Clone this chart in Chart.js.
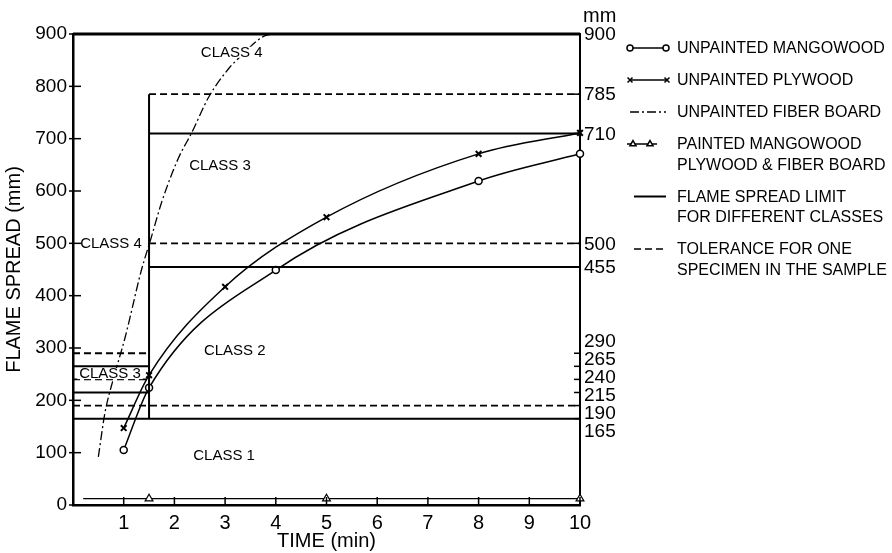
<!DOCTYPE html>
<html>
<head>
    <title>Flame Spread vs Time</title>
    <script src="https://cdn.jsdelivr.net/npm/chart.js"></script>
    <style>
        body { margin: 0; background: #fff; }
        .chart-container { width: 892px; height: 553px; }
    </style>
</head>
<body>
    <div class="chart-container">
        <canvas id="flameChart" width="892" height="553"></canvas>
    </div>

    <script>
        // tick values
        const xTicks = [1, 2, 3, 4, 5, 6, 7, 8, 9, 10];
        const yTicks = [0, 100, 200, 300, 400, 500, 600, 700, 800, 900];
        const rightTicks = [900, 785, 710, 500, 455, 290, 265, 240, 215, 190, 165];

        // measured series (time in min, spread in mm)
        const mangoTime = [1, 1.5, 4, 8, 10];
        const mangoSpread = [105, 224, 449, 619, 671];

        const plyTime = [1, 1.5, 3, 5, 8, 10];
        const plySpread = [147, 248, 417, 550, 671, 711];

        const fiberTime = [0.5, 0.63, 0.79, 1.03, 1.35, 1.54, 1.75, 2.08, 2.34, 2.68, 3.08, 3.27, 3.73, 3.9];
        const fiberSpread = [92, 176, 239, 321, 449, 510, 579, 663, 711, 780, 835, 854, 894, 900];

        const paintedTime = [0.2, 1.5, 5, 10];
        const paintedSpread = [12, 12, 12, 12];

        // class limits: [from time, to time, spread]
        const limitLines = [[0, 10, 900], [1.5, 10, 710], [1.5, 10, 455], [0, 1.5, 265], [0, 1.5, 215], [0, 10, 165]];
        const stepLine = [[1.5, 785], [1.5, 165]];
        const toleranceLines = [[1.5, 10, 785], [1.5, 10, 500], [0, 1.5, 290], [0, 1.5, 240], [0, 10, 190]];

        // class annotations
        const classText = ['CLASS 4', 'CLASS 3', 'CLASS 4', 'CLASS 3', 'CLASS 2', 'CLASS 1'];
        const classTime = [3.13, 2.9, 0.75, 0.73, 3.19, 2.98];
        const classSpread = [866, 650, 500, 252, 296, 96];

        const legendText = [
            ['UNPAINTED MANGOWOOD'],
            ['UNPAINTED PLYWOOD'],
            ['UNPAINTED FIBER BOARD'],
            ['PAINTED MANGOWOOD', 'PLYWOOD & FIBER BOARD'],
            ['FLAME SPREAD LIMIT', 'FOR DIFFERENT CLASSES'],
            ['TOLERANCE FOR ONE', 'SPECIMEN IN THE SAMPLE']
        ];

        const FONT = "'Liberation Sans', Arial, sans-serif";
        Chart.defaults.font.family = FONT;
        Chart.defaults.color = '#000';

        function pairs(xs, ys) {
            return xs.map((x, i) => ({ x: x, y: ys[i] }));
        }

        function segments(lines) {
            const out = [];
            lines.forEach(([x0, x1, y]) => {
                out.push({ x: x0, y: y }, { x: x1, y: y }, { x: x1, y: null });
            });
            return out;
        }

        const limitData = segments(limitLines).concat(stepLine.map(p => ({ x: p[0], y: p[1] })));

        // spread stacked labels so they don't overlap
        function spreadLabels(ps, gap) {
            let groups = ps.map(p => ({ start: p, items: [p] }));
            let merged = true;
            while (merged) {
                merged = false;
                for (let i = 0; i < groups.length - 1; i++) {
                    const a = groups[i], b = groups[i + 1];
                    if (a.start + a.items.length * gap > b.start) {
                        const items = a.items.concat(b.items);
                        const mean = items.reduce((s, v) => s + v, 0) / items.length;
                        groups.splice(i, 2, { start: mean - (items.length - 1) * gap / 2, items: items });
                        merged = true;
                        break;
                    }
                }
            }
            const out = [];
            groups.forEach(g => g.items.forEach((_, k) => out.push(g.start + k * gap)));
            return out;
        }

        function drawSymbol(ctx, kind, x0, x1, y) {
            ctx.save();
            ctx.strokeStyle = '#000';
            ctx.fillStyle = '#fff';
            ctx.lineWidth = kind === 'limit' ? 2 : 1.5;
            if (kind === 'fiber') ctx.setLineDash([9, 3, 2, 3]);
            if (kind === 'tolerance') ctx.setLineDash([7, 4]);
            ctx.beginPath();
            ctx.moveTo(x0, y);
            ctx.lineTo(x1, y);
            ctx.stroke();
            ctx.setLineDash([]);
            const marks = { mango: 'circle', ply: 'crossRot', painted: 'triangle' };
            if (marks[kind]) {
                const pts = kind === 'painted' ? [x0 + 6, x0 + 23] : [x0, x1];
                pts.forEach(px => {
                    Chart.helpers.drawPoint(ctx, {
                        pointStyle: marks[kind], radius: kind === 'mango' ? 3 : 3.5,
                        borderWidth: kind === 'ply' ? 2 : 1.3, rotation: 0
                    }, px, y);
                });
            }
            ctx.restore();
        }

        const overlay = {
            id: 'overlay',
            afterDraw(chart) {
                const ctx = chart.ctx;
                const area = chart.chartArea;
                const xs = chart.scales.x, ys = chart.scales.y2, yl = chart.scales.y;
                ctx.save();
                ctx.strokeStyle = '#000';
                ctx.fillStyle = '#000';

                // inward ticks on the time axis
                ctx.lineWidth = 1.5;
                xTicks.forEach(v => {
                    const px = xs.getPixelForValue(v);
                    ctx.beginPath();
                    ctx.moveTo(px, area.bottom);
                    ctx.lineTo(px, area.bottom - 8);
                    ctx.stroke();
                });

                // ticks on the left spread axis
                yTicks.forEach(v => {
                    const py = yl.getPixelForValue(v);
                    ctx.beginPath();
                    ctx.moveTo(area.left - 4, py);
                    ctx.lineTo(area.left + 8, py);
                    ctx.stroke();
                });

                // right-hand mm scale
                ctx.font = '19px ' + FONT;
                ctx.textAlign = 'left';
                ctx.textBaseline = 'middle';
                const pix = rightTicks.map(v => ys.getPixelForValue(v));
                const placed = spreadLabels(pix, 18);
                rightTicks.forEach((v, i) => {
                    ctx.beginPath();
                    ctx.moveTo(area.right - 6, pix[i]);
                    ctx.lineTo(area.right, pix[i]);
                    ctx.stroke();
                    ctx.fillText(String(v), area.right + 4, placed[i] + 1);
                });
                ctx.font = '20px ' + FONT;
                ctx.fillText('mm', area.right + 3, pix[0] - 18);

                // class labels
                ctx.font = '15px ' + FONT;
                ctx.textAlign = 'center';
                classText.forEach((t, i) => {
                    const px = xs.getPixelForValue(classTime[i]);
                    const py = yl.getPixelForValue(classSpread[i]);
                    const w = ctx.measureText(t).width;
                    if (i === 0 || i === 3) {
                        ctx.fillStyle = '#fff';
                        ctx.fillRect(px - w / 2 - 2, py - 5, w + 4, 11);
                        ctx.fillStyle = '#000';
                    }
                    ctx.fillText(t, px, py + 1);
                });

                // legend
                const kinds = ['mango', 'ply', 'fiber', 'painted', 'limit', 'tolerance'];
                const symX = [[630, 666], [630, 667], [630, 666], [627, 657], [634, 666], [634, 667]];
                ctx.font = '16px ' + FONT;
                ctx.textAlign = 'left';
                let ly = 48;
                legendText.forEach((lines, i) => {
                    drawSymbol(ctx, kinds[i], symX[i][0], symX[i][1], ly);
                    ctx.fillStyle = '#000';
                    lines.forEach((t, k) => ctx.fillText(t, 677, ly + k * 20.5 + 1));
                    ly += 32 + (lines.length - 1) * 20.5;
                });
                ctx.restore();
            }
        };

        const ctx = document.getElementById('flameChart').getContext('2d');
        new Chart(ctx, {
            type: 'line',
            data: {
                datasets: [
                    {
                        label: 'Flame spread limit',
                        data: limitData,
                        borderColor: '#000',
                        borderWidth: 2,
                        segment: { borderWidth: c => (c.p0.parsed.y === 900 ? 3 : 2) },
                        pointRadius: 0,
                        spanGaps: false,
                        clip: 4
                    },
                    {
                        label: 'Tolerance',
                        data: segments(toleranceLines),
                        borderColor: '#000',
                        borderWidth: 1.8,
                        borderDash: [7, 4],
                        pointRadius: 0,
                        spanGaps: false,
                        clip: 4
                    },
                    {
                        label: 'Unpainted fiber board',
                        data: pairs(fiberTime, fiberSpread),
                        borderColor: '#000',
                        borderWidth: 1.3,
                        borderDash: [9, 3, 2, 3],
                        pointRadius: 0,
                        cubicInterpolationMode: 'monotone'
                    },
                    {
                        label: 'Painted mangowood, plywood & fiber board',
                        data: pairs(paintedTime, paintedSpread),
                        borderColor: '#000',
                        borderWidth: 1.3,
                        pointStyle: 'triangle',
                        pointRadius: [0, 4.5, 4.5, 4.5],
                        pointBackgroundColor: '#fff',
                        pointBorderColor: '#000',
                        pointBorderWidth: 1.2,
                        clip: 6
                    },
                    {
                        label: 'Unpainted plywood',
                        data: pairs(plyTime, plySpread),
                        borderColor: '#000',
                        borderWidth: 1.5,
                        pointStyle: 'crossRot',
                        pointRadius: 4,
                        pointBorderColor: '#000',
                        pointBorderWidth: 2,
                        cubicInterpolationMode: 'monotone',
                        clip: 6
                    },
                    {
                        label: 'Unpainted mangowood',
                        data: pairs(mangoTime, mangoSpread),
                        borderColor: '#000',
                        borderWidth: 1.5,
                        pointStyle: 'circle',
                        pointRadius: 3.5,
                        pointBackgroundColor: '#fff',
                        pointBorderColor: '#000',
                        pointBorderWidth: 1.5,
                        cubicInterpolationMode: 'monotone',
                        clip: 6
                    }
                ]
            },
            options: {
                responsive: false,
                animation: false,
                layout: { padding: { top: 34, left: 0, right: 0, bottom: 0 } },
                plugins: {
                    legend: { display: false },
                    tooltip: { enabled: false }
                },
                scales: {
                    x: {
                        type: 'linear',
                        position: 'bottom',
                        min: 0,
                        max: 10,
                        afterBuildTicks: s => { s.ticks = xTicks.map(v => ({ value: v })); },
                        afterFit: s => { s.height = 48; },
                        grid: { drawOnChartArea: false, drawTicks: false, color: '#000' },
                        border: { display: true, color: '#000', width: 2.5 },
                        ticks: { font: { size: 20 }, padding: 6, maxRotation: 0, autoSkip: false },
                        title: { display: true, text: 'TIME (min)', font: { size: 20 }, padding: { top: 0, bottom: 0 } }
                    },
                    y: {
                        position: 'left',
                        min: 0,
                        max: 900,
                        afterBuildTicks: s => { s.ticks = yTicks.map(v => ({ value: v })); },
                        afterFit: s => { s.width = 73; },
                        grid: { drawOnChartArea: false, drawTicks: false, color: '#000' },
                        border: { display: true, color: '#000', width: 2.5 },
                        ticks: { font: { size: 19 }, padding: 6, autoSkip: false },
                        title: { display: true, text: 'FLAME SPREAD (mm)', font: { size: 20 }, padding: { top: 2, bottom: 0 } }
                    },
                    y2: {
                        position: 'right',
                        min: 0,
                        max: 900,
                        afterFit: s => { s.width = 312; },
                        grid: { drawOnChartArea: false, drawTicks: false, color: '#000' },
                        border: { display: true, color: '#000', width: 2 },
                        ticks: { display: false }
                    }
                }
            },
            plugins: [overlay]
        });
    </script>
</body>
</html>
